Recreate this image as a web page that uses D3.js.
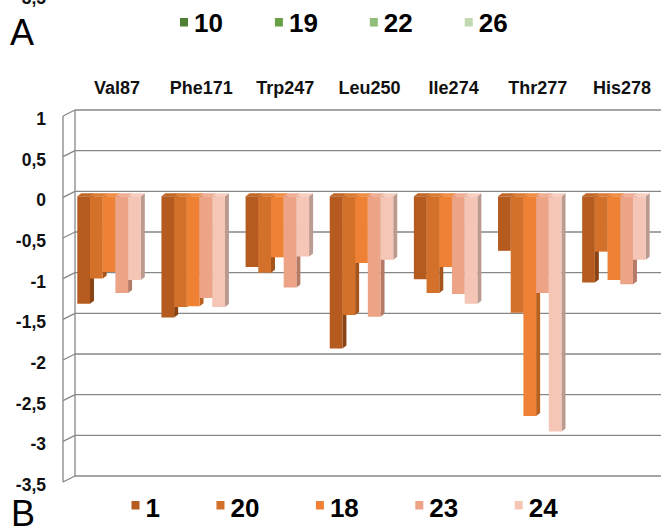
<!DOCTYPE html>
<html>
<head>
<meta charset="utf-8">
<script src="https://cdn.jsdelivr.net/npm/d3@7/dist/d3.min.js"></script>
<style>
  body { margin: 0; background: #fff; }
  svg { display: block; font-family: "Liberation Sans", Arial, sans-serif; }
</style>
</head>
<body>
<div id="chart"></div>
<script>
// Data
let categories = ['Val87', 'Phe171', 'Trp247', 'Leu250', 'Ile274', 'Thr277', 'His278']
let seriesNames = ['1', '20', '18', '23', '24']
let s1  = [-1.32, -1.49, -0.87, -1.87, -1.02, -0.67, -1.06]
let s20 = [-1.01, -1.36, -0.94, -1.46, -1.19, -1.43, -0.68]
let s18 = [-0.93, -1.35, -0.75, -0.82, -0.87, -2.70, -1.03]
let s23 = [-1.19, -1.25, -1.12, -1.48, -1.20, -1.19, -1.08]
let s24 = [-1.03, -1.36, -0.74, -0.78, -1.32, -2.89, -0.78]
let yTicks = [1, 0.5, 0, -0.5, -1, -1.5, -2, -2.5, -3, -3.5]
let legendA = ['10', '19', '22', '26']

// Colours
let frontColors = ['#b55b1f', '#d3702a', '#ee8133', '#eca386', '#f5c5b5']
let sideColors  = ['#8a4314', '#a5551c', '#b9601f', '#b57b66', '#bb9a90']
let topColors   = ['#c0682a', '#da7b36', '#f08d45', '#efae95', '#f7cfc1']
let legendAColors = ['#4f8033', '#67a044', '#90bd79', '#c0d9b1']

let svgWidth = 661, svgHeight = 527
let axisDepth = { dx: 12, dy: 6 }   // back wall -> front of side wall
let barDepth = { dx: 4, dy: 3 }     // depth of a single column
let barShift = 5                    // columns sit in front of the back wall

let rows = categories.map((c, i) => ({
    cat: c,
    vals: [s1[i], s20[i], s18[i], s23[i], s24[i]]
}))

let locale = d3.formatLocale({ decimal: ',', thousands: '.', grouping: [3], currency: ['', ''], minus: '-' })
let fmt = locale.format('~g')

let svg = d3.select('#chart')
    .append('svg')
    .attr('width', svgWidth)
    .attr('height', svgHeight)

// Scales
let x0 = d3.scaleBand()
    .domain(categories)
    .range([75, 664])
let x1 = d3.scaleBand()
    .domain(seriesNames)
    .range([2.3, 2.3 + 63.5])
let y = d3.scaleLinear()
    .domain([-3.5, 1])
    .range([476, 110])

let axisColor = '#878787'

// Gridlines on the back wall
svg.append('g')
    .selectAll('line')
    .data(yTicks)
    .join('line')
    .attr('x1', 75)
    .attr('x2', svgWidth)
    .attr('y1', d => y(d))
    .attr('y2', d => y(d))
    .attr('stroke', axisColor)
    .attr('stroke-width', 1.3)

// Side wall of the value axis
let wall = svg.append('g')
    .attr('stroke', axisColor)
    .attr('stroke-width', 1.3)
    .attr('fill', 'none')
wall.append('line')
    .attr('x1', 75).attr('x2', 75)
    .attr('y1', y(1)).attr('y2', y(-3.5))
wall.append('line')
    .attr('x1', 75 - axisDepth.dx).attr('x2', 75 - axisDepth.dx)
    .attr('y1', y(1) + axisDepth.dy).attr('y2', y(-3.5) + axisDepth.dy)
wall.selectAll('line.tick')
    .data(yTicks)
    .join('line')
    .attr('class', 'tick')
    .attr('x1', 75 - axisDepth.dx)
    .attr('x2', 75)
    .attr('y1', d => y(d) + axisDepth.dy)
    .attr('y2', d => y(d))

// Value axis labels
svg.append('g')
    .selectAll('text')
    .data(yTicks)
    .join('text')
    .attr('x', 46)
    .attr('y', d => y(d) + 9)
    .attr('dy', '0.35em')
    .attr('text-anchor', 'end')
    .attr('font-size', 17.5)
    .attr('font-weight', 'bold')
    .attr('fill', '#111')
    .text(d => fmt(d))

// clipped label left over from the chart above
svg.append('text')
    .attr('x', 46)
    .attr('y', 4)
    .attr('text-anchor', 'end')
    .attr('font-size', 17.5)
    .attr('font-weight', 'bold')
    .attr('fill', '#111')
    .text(fmt(-3.5))

// Category labels on top
svg.append('g')
    .selectAll('text')
    .data(categories)
    .join('text')
    .attr('x', d => x0(d) + x0.bandwidth() / 2)
    .attr('y', 94)
    .attr('text-anchor', 'middle')
    .attr('font-size', 18)
    .attr('font-weight', 'bold')
    .attr('fill', '#111')
    .text(d => d)

// 3D columns
let w = x1.bandwidth()
let colPath = (x, yTop, yBot, part) => {
    let dx = barDepth.dx, dy = barDepth.dy
    if (part === 'front') return `M${x},${yTop}H${x + w}V${yBot}H${x}Z`
    if (part === 'side') return `M${x + w},${yTop}L${x + w + dx},${yTop - dy}V${yBot - dy}L${x + w},${yBot}Z`
    return `M${x},${yTop}L${x + dx},${yTop - dy}H${x + w + dx}L${x + w},${yTop}Z`
}

let groups = svg.append('g')
    .selectAll('g')
    .data(rows)
    .join('g')
    .attr('transform', d => 'translate(' + x0(d.cat) + ',0)')

groups.each(function (row) {
    let g = d3.select(this)
    row.vals.forEach((v, i) => {
        let bx = x1(seriesNames[i])
        let yTop = y(Math.max(0, v)) + barShift
        let yBot = y(Math.min(0, v)) + barShift
        g.append('path').attr('d', colPath(bx, yTop, yBot, 'side')).attr('fill', sideColors[i])
        g.append('path').attr('d', colPath(bx, yTop, yBot, 'top')).attr('fill', topColors[i])
        g.append('path').attr('d', colPath(bx, yTop, yBot, 'front')).attr('fill', frontColors[i])
    })
})

// Panel letters
svg.append('text')
    .attr('x', 10).attr('y', 45)
    .attr('font-size', 36)
    .attr('fill', '#000')
    .text('A')
svg.append('text')
    .attr('x', 11).attr('y', 526)
    .attr('font-size', 36)
    .attr('fill', '#000')
    .text('B')

// Legends
drawLegend = (names, colors, startX, squareY, textY, gap, fontSize) => {
    let lg = svg.append('g')
    let xPos = startX
    names.forEach((n, i) => {
        lg.append('rect')
            .attr('x', xPos).attr('y', squareY)
            .attr('width', 8).attr('height', 8.5)
            .attr('fill', colors[i])
        let t = lg.append('text')
            .attr('x', xPos + 14).attr('y', textY)
            .attr('font-size', fontSize)
            .attr('font-weight', 'bold')
            .attr('fill', '#000')
            .text(n)
        xPos = xPos + 14 + t.node().getComputedTextLength() + gap
    })
}

drawLegend(legendA, legendAColors, 180, 18, 31.5, 52, 26)
drawLegend(seriesNames, frontColors, 131.5, 501, 517, 56.5, 26)
</script>
</body>
</html>
